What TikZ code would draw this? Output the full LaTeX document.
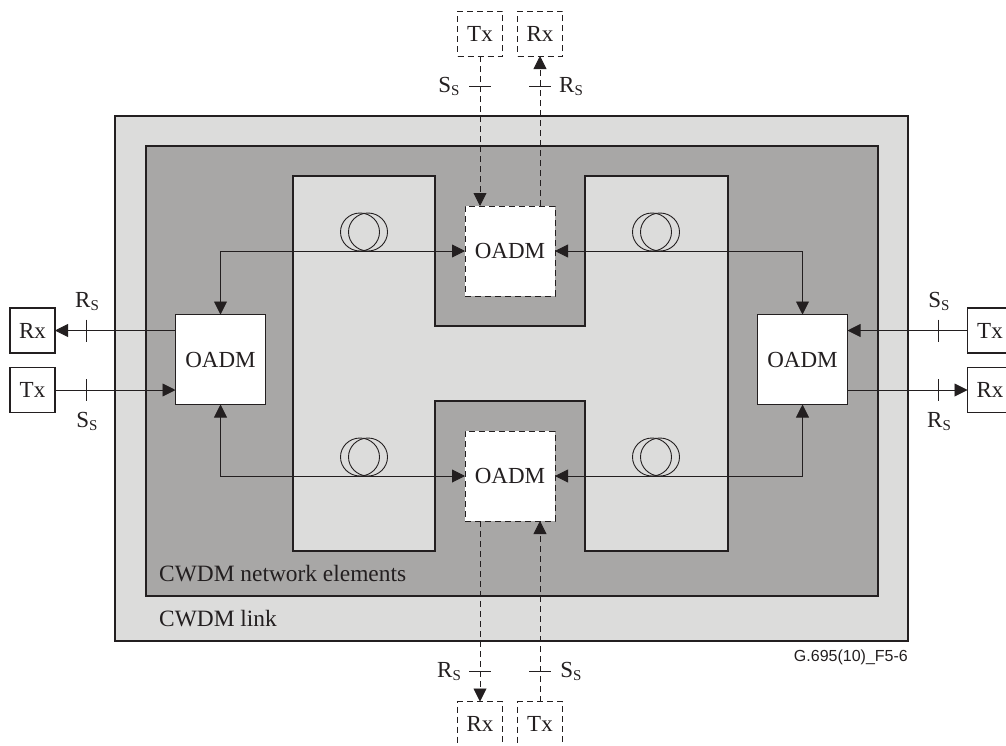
\documentclass[tikz,border=0pt]{standalone}
\usepackage{fontspec}
\setmainfont{Liberation Serif}
\setsansfont{Liberation Sans}
\usetikzlibrary{arrows.meta}

\definecolor{linkgray}{HTML}{DCDCDB}
\definecolor{elemgray}{HTML}{A8A7A6}
\definecolor{inkgray}{HTML}{231F20}

\newcommand{\sublabel}[2]{#1\raisebox{-0.32ex}{\fontsize{15}{15}\selectfont #2}}

\tikzset{
    txt/.style={font=\fontsize{23}{25}\selectfont, text=inkgray, inner sep=0pt},
    wire/.style={draw=inkgray, line width=0.9pt},
    area/.style={draw=inkgray, line width=1.1pt},
    onearrow/.style={-{Triangle[length=13pt,width=13pt]}},
    twoarrow/.style={{Triangle[length=13pt,width=13pt]}-{Triangle[length=13pt,width=13pt]}},
    dashline/.style={dash pattern=on 6pt off 4pt},
    oadm/.style={txt, area, fill=white, minimum size=90pt, outer sep=0pt},
    oadmdash/.style={oadm, line width=0.9pt, dashline},
    trx/.style={txt, area, fill=white, minimum width=45pt, minimum height=45pt, outer sep=0pt},
    trxdash/.style={trx, line width=0.9pt, dashline},
    sublbl/.style={txt}
}

\begin{document}
\begin{tikzpicture}[x=1pt, y=-1pt]

    \useasboundingbox (0,0) rectangle (1006,745);
    \clip (0,0) rectangle (1006,745);

    % Areas
    \draw[area, fill=linkgray] (115,116) rectangle (908,641);
    \draw[area, fill=elemgray] (146,146) rectangle (878,596);
    \draw[area, fill=linkgray] (293,176) -- (435,176) -- (435,326) -- (585,326)
        -- (585,176) -- (728,176) -- (728,551) -- (585,551) -- (585,401) -- (435,401) -- (435,551) -- (293,551) -- cycle;

    \node[txt, anchor=base west, font=\fontsize{23.4}{25}\selectfont] (elemlabel) at (159,581.5) {CWDM network elements};
    \node[txt, anchor=base west, font=\fontsize{23.4}{25}\selectfont] (linklabel) at (159,626) {CWDM link};
    \node[txt, anchor=base east, font=\sffamily\fontsize{16}{18}\selectfont] (figlabel) at (908,661) {G.695(10)\_F5-6};

    % OADM
    \node[oadm] (oadmL) at (220.5,359.5) {OADM};
    \node[oadm] (oadmR) at (802.5,359.5) {OADM};
    \node[oadmdash] (oadmT) at (510,251) {OADM};
    \node[oadmdash] (oadmB) at (510,476) {OADM};

    % Tx / Rx
    \node[trx] (rxL) at (32.5,330.5) {Rx};
    \node[trx] (txL) at (32.5,390) {Tx};
    \node[trx] (txR) at (990,330.5) {Tx};
    \node[trx] (rxR) at (990,390) {Rx};
    \node[trxdash] (txT) at (480,33.5) {Tx};
    \node[trxdash] (rxT) at (540,33.5) {Rx};
    \node[trxdash] (rxB) at (480,724) {Rx};
    \node[trxdash] (txB) at (540,724) {Tx};

    % Fibre links
    \draw[wire, twoarrow] (oadmL.north) |- (oadmT.west);
    \draw[wire, twoarrow] (oadmR.north) |- (oadmT.east);
    \draw[wire, twoarrow] (oadmL.south) |- (oadmB.west);
    \draw[wire, twoarrow] (oadmR.south) |- (oadmB.east);

    % Coils
    \foreach \cx/\cy in {360/232, 652/232, 360/457, 652/457} {
        \draw[wire] (\cx,\cy) ellipse (19.5pt and 19pt);
        \draw[wire] (\cx+8,\cy) ellipse (19.5pt and 19pt);
    }

    % Side connections
    \draw[wire, onearrow] (rxL.east -| oadmL.west) -- (rxL.east);
    \draw[wire, onearrow] (txL.east) -- (txL.east -| oadmL.west);
    \draw[wire, onearrow] (txR.west) -- (txR.west -| oadmR.east);
    \draw[wire, onearrow] (rxR.west -| oadmR.east) -- (rxR.west);

    \draw[wire, dashline, onearrow] (txT.south) -- (txT.south |- oadmT.north);
    \draw[wire, dashline, onearrow] (rxT.south |- oadmT.north) -- (rxT.south);
    \draw[wire, dashline, onearrow] (rxB.north |- oadmB.south) -- (rxB.north);
    \draw[wire, dashline, onearrow] (txB.north) -- (txB.north |- oadmB.south);

    % Reference points
    \foreach \nm/\px/\py in {a/86/330.5, b/86/390, c/938/330.5, d/938/390} {
        \coordinate (tick\nm) at (\px,\py);
        \draw[wire] (\px,\py-11) -- (\px,\py+11);
    }
    \foreach \nm/\px/\py in {e/480/86, f/540/86, g/480/671, h/540/671} {
        \coordinate (tick\nm) at (\px,\py);
        \draw[wire] (\px-11,\py) -- (\px+11,\py);
    }

    \node[sublbl, anchor=base] (rsL) at (87,307) {\sublabel{R}{S}};
    \node[sublbl, anchor=base] (ssL) at (87,427) {\sublabel{S}{S}};
    \node[sublbl, anchor=base] (ssR) at (939,307) {\sublabel{S}{S}};
    \node[sublbl, anchor=base] (rsR) at (939,427) {\sublabel{R}{S}};
    \node[sublbl, anchor=base] (ssT) at (449,92) {\sublabel{S}{S}};
    \node[sublbl, anchor=base] (rsT) at (571,92) {\sublabel{R}{S}};
    \node[sublbl, anchor=base] (rsB) at (449,677) {\sublabel{R}{S}};
    \node[sublbl, anchor=base] (ssB) at (571,677) {\sublabel{S}{S}};

\end{tikzpicture}
\end{document}
